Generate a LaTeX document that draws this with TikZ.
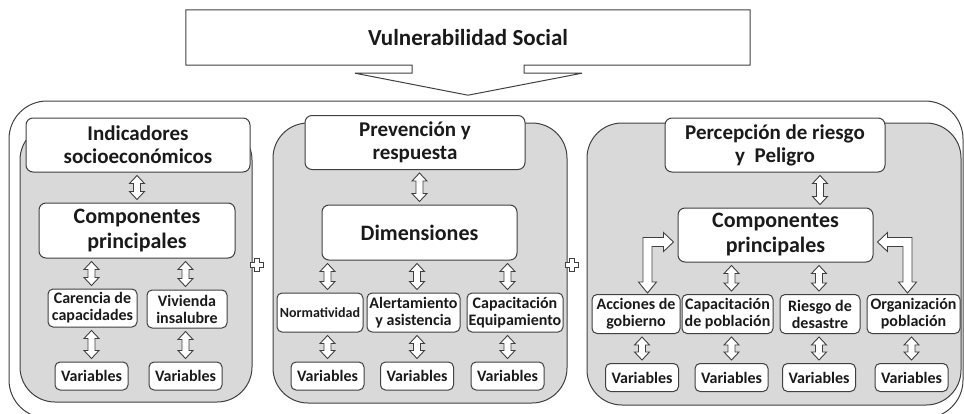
\documentclass[tikz,border=0pt]{standalone}
\usepackage{fontspec}
\setmainfont{Carlito}
\usetikzlibrary{calc}
\definecolor{panelgray}{HTML}{D9D9D9}
\definecolor{linegray}{HTML}{404040}
\definecolor{inkgray}{HTML}{1A1A1A}
\tikzstyle{box} = [draw=linegray, fill=white, line width=1pt, rounded corners=7pt, align=center, inner sep=1pt, text=inkgray]
\tikzstyle{title} = [align=center, text=inkgray, minimum width=564pt, minimum height=55pt, font=\fontsize{23}{25}\selectfont\bfseries]
\tikzstyle{header} = [box, minimum width=220pt, minimum height=54pt, font=\fontsize{21}{23}\selectfont\bfseries]
\tikzstyle{main} = [box, minimum width=195pt, minimum height=55pt, font=\fontsize{22}{25}\selectfont\bfseries]
\tikzstyle{sub} = [box, minimum height=39pt, rounded corners=5pt, font=\fontsize{16}{17}\selectfont\bfseries]
\tikzstyle{varbox} = [box, minimum width=73pt, minimum height=28pt, rounded corners=5pt, font=\fontsize{16}{17}\selectfont\bfseries]
\tikzstyle{panel} = [draw=linegray, fill=panelgray, line width=1pt, rounded corners=35pt]
\tikzstyle{outline} = [draw=linegray, line width=1pt]
\tikzstyle{plus} = [draw=linegray, fill=white, line width=0.8pt]
% hollow up-down block arrow, drawn at the target's x
\tikzstyle{ud} = [draw=linegray, fill=white, line width=0.9pt,
  to path={let \p1=(\tikztostart), \p2=(\tikztotarget) in
    ({\x2},{\y1-3pt}) -- ({\x2+7.5pt},{\y1-11pt}) -- ({\x2+3.5pt},{\y1-11pt})
    -- ({\x2+3.5pt},{\y2+11pt}) -- ({\x2+7.5pt},{\y2+11pt}) -- ({\x2},{\y2+3pt})
    -- ({\x2-7.5pt},{\y2+11pt}) -- ({\x2-3.5pt},{\y2+11pt})
    -- ({\x2-3.5pt},{\y1-11pt}) -- ({\x2-7.5pt},{\y1-11pt}) -- cycle}]
% bent block arrow, up from a box then sideways into another
\tikzset{elbow/.style={draw=linegray, fill=white, line width=0.9pt,
  to path={let \p1=(\tikztostart), \p2=(\tikztotarget) in
    ({\x1},{\y1+1pt}) -- ({\x1+(#1)*9pt},{\y1+12pt}) -- ({\x1+(#1)*4.5pt},{\y1+12pt})
    -- ({\x1+(#1)*4.5pt},{\y2-4.5pt}) -- ({\x2-(#1)*14pt},{\y2-4.5pt})
    -- ({\x2-(#1)*14pt},{\y2-9.5pt}) -- ({\x2-(#1)*4pt},{\y2})
    -- ({\x2-(#1)*14pt},{\y2+9.5pt}) -- ({\x2-(#1)*14pt},{\y2+4.5pt})
    -- ({\x1-(#1)*4.5pt},{\y2+4.5pt}) -- ({\x1-(#1)*4.5pt},{\y1+12pt})
    -- ({\x1-(#1)*9pt},{\y1+12pt}) -- cycle}}}

\begin{document}
\begin{tikzpicture}[x=1pt, y=-1pt]
    \useasboundingbox (0,0) rectangle (964,413);
    % outer frame and the three panels
    \draw[outline, rounded corners=38pt] (9,101) rectangle (963,418);
    \foreach \a/\b in {{(20,125)/(252,402)}, {(273,123)/(567,403)}, {(587,123)/(961,405)}}
        \draw[panel] \a rectangle \b;

    % title with its down arrow
    \node[title] (top) at (468,37.5) {Vulnerabilidad Social};
    \draw[outline] (top.south west) -- (top.north west) -- (top.north east) -- (top.south east)
        -- ($(top.south)+(56,0)$) -- ++(0,8) -- ++(58,0) -- ($(top.south)+(0,30)$)
        -- ($(top.south)+(-113,8)$) -- ++(57,0) -- ++(0,-8) -- cycle;

    % headers and middle boxes
    \node[header, minimum width=224pt] (h1) at (138,145) {Indicadores\\socioeconómicos};
    \node[header] (h2) at (415,142.5) {Prevención y\\respuesta};
    \node[header] (h3) at (775,145) {Percepción de riesgo\\y\ \ Peligro};
    \node[main, minimum width=196pt] (cp1) at (137,230.5) {Componentes\\principales};
    \node[main] (dim) at (419.5,232.5) {Dimensiones};
    \node[main, minimum height=54pt] (cp3) at (775.5,235) {Componentes\\principales};

    % sub boxes
    \node[sub, minimum width=89pt, minimum height=38pt] (cc) at (92.5,308) {Carencia de\\capacidades};
    \node[sub, minimum width=80pt, minimum height=38pt] (vi) at (187,309) {Vivienda\\insalubre};
    \node[sub, minimum width=86pt, font=\fontsize{14}{16}\selectfont\bfseries] (no) at (320,312.5) {Normatividad};
    \node[sub, minimum width=93pt] (al) at (413.5,312.5) {Alertamiento\\y asistencia};
    \node[sub, minimum width=96pt] (ce) at (515,312.5) {Capacitación\\Equipamiento};
    \node[sub, minimum width=88pt] (ac) at (636,314) {Acciones de\\gobierno};
    \node[sub, minimum width=91pt] (cpo) at (727.5,314) {Capacitación\\de población};
    \node[sub, minimum width=80pt] (ri) at (820,314) {Riesgo de\\desastre};
    \node[sub, minimum width=93pt] (og) at (913.5,314) {Organización\\población};

    % variables
    \foreach \pos/\name in {{(91.5,376)/v11}, {(185.5,376)/v12},
                            {(327.5,376)/v21}, {(417,376)/v22}, {(507.5,376)/v23},
                            {(642,377.5)/v31}, {(731.5,377.5)/v32}, {(819,377.5)/v33}, {(911.5,377.5)/v34}}
        \node[varbox] (\name) at \pos {Variables};

    % up-down arrows
    \foreach \source/\dest in {h1.south/cp1.north, cp1.south/cc.north -| v11, cp1.south/vi.north -| v12,
                               cc.south/v11.north, vi.south/v12.north,
                               h2.south/dim.north, dim.south/no.north -| v21, dim.south/al.north -| v22,
                               dim.south/ce.north -| v23, no.south/v21.north, al.south/v22.north, ce.south/v23.north,
                               h3.south/cp3.north -| ri, cp3.south/cpo.north -| v32, cp3.south/ri.north -| v33,
                               ac.south/v31.north, cpo.south/v32.north, ri.south/v33.north, og.south/v34.north}
        \path[ud] (\source) to (\dest);
    \path[elbow=1] ([xshift=11.5pt]ac.north) to ([yshift=-7pt]cp3.west);
    \path[elbow=-1] ([xshift=-6pt]og.north) to ([yshift=-7pt]cp3.east);

    % plus signs between panels
    \foreach \pos in {(257,265), (572,265)}
        \draw[plus] \pos ++(-2.2,-6.5) -- ++(4.4,0) -- ++(0,4.3) -- ++(4.3,0) -- ++(0,4.4) -- ++(-4.3,0)
            -- ++(0,4.3) -- ++(-4.4,0) -- ++(0,-4.3) -- ++(-4.3,0) -- ++(0,-4.4) -- ++(4.3,0) -- cycle;
\end{tikzpicture}
\end{document}
